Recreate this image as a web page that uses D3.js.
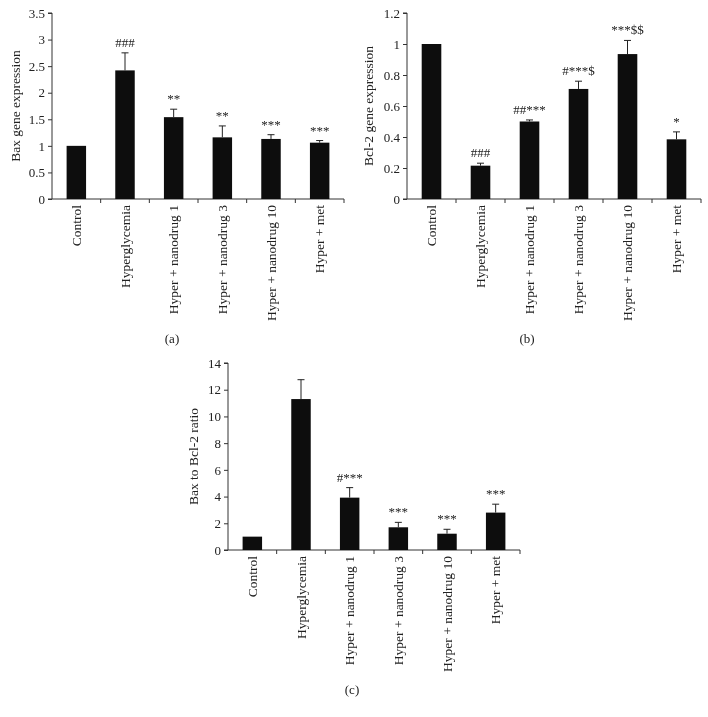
<!DOCTYPE html>
<html>
<head>
<meta charset="utf-8">
<script src="https://cdn.jsdelivr.net/npm/d3@7"></script>
<style>
  html, body { margin: 0; padding: 0; background: #fff; }
  svg { display: block; will-change: transform; }
  text { font-family: "Liberation Serif", "Times New Roman", serif; fill: #222; }
</style>
</head>
<body>
<script>
// ---- Data ----
const categories = ["Control", "Hyperglycemia", "Hyper + nanodrug 1", "Hyper + nanodrug 3", "Hyper + nanodrug 10", "Hyper + met"];

const baxValues = [1.0, 2.42, 1.54, 1.16, 1.13, 1.06];
const baxErrors = [0, 0.33, 0.15, 0.215, 0.08, 0.04];
const baxMarks  = ["", "###", "**", "**", "***", "***"];
const baxTicks  = [0, 0.5, 1, 1.5, 2, 2.5, 3, 3.5];

const bcl2Values = [1.0, 0.215, 0.50, 0.71, 0.935, 0.385];
const bcl2Errors = [0, 0.016, 0.01, 0.05, 0.088, 0.048];
const bcl2Marks  = ["", "###", "##***", "#***$", "***$$", "*"];
const bcl2Ticks  = [0, 0.2, 0.4, 0.6, 0.8, 1, 1.2];

const ratioValues = [1.0, 11.3, 3.92, 1.70, 1.22, 2.80];
const ratioErrors = [0, 1.45, 0.75, 0.37, 0.33, 0.63];
const ratioMarks  = ["", "", "#***", "***", "***", "***"];
const ratioTicks  = [0, 2, 4, 6, 8, 10, 12, 14];

const W = 708, H = 717;
const svg = d3.select("body").append("svg").attr("width", W).attr("height", H);

function panel(cfg) {
  const g = svg.append("g");
  const x = d3.scaleBand().domain(categories).range([cfg.x0, cfg.x1]).paddingInner(0.6).paddingOuter(0.3);
  const y = d3.scaleLinear().domain([0, cfg.max]).range([cfg.yb, cfg.yt]);

  // Y axis
  const ya = g.append("g").attr("transform", `translate(${cfg.x0},0)`)
    .call(d3.axisLeft(y).tickValues(cfg.ticks).tickSize(4).tickPadding(3).tickFormat(d => String(d)));
  ya.select(".domain").attr("stroke", "#333").attr("d", `M-4,${cfg.yt}H0V${cfg.yb}H-4`);
  ya.selectAll(".tick line").attr("stroke", "#333");
  ya.selectAll(".tick text").style("font-family", '"Liberation Serif", serif').style("font-size", "13px").attr("fill", "#222");

  // X axis (ticks at band boundaries)
  const xa = g.append("g").attr("transform", `translate(0,${cfg.yb})`);
  xa.append("line").attr("x1", cfg.x0).attr("x2", cfg.x1).attr("stroke", "#333");
  const bounds = d3.range(1, categories.length + 1).map(i => cfg.x0 + i * (cfg.x1 - cfg.x0) / categories.length);
  xa.selectAll("line.bt").data(bounds).join("line").attr("class", "bt")
    .attr("x1", d => d).attr("x2", d => d).attr("y1", 0).attr("y2", 4).attr("stroke", "#333");
  xa.selectAll("text.xl").data(categories).join("text").attr("class", "xl")
    .attr("transform", d => `translate(${x(d) + x.bandwidth() / 2},6) rotate(-90)`)
    .attr("text-anchor", "end").attr("dy", "0.35em")
    .style("font-size", "13.5px").text(d => d);

  // Bars
  g.selectAll("rect.bar").data(categories).join("rect").attr("class", "bar")
    .attr("x", d => x(d)).attr("width", x.bandwidth())
    .attr("y", (d, i) => y(cfg.values[i])).attr("height", (d, i) => y(0) - y(cfg.values[i]))
    .attr("fill", "#0d0d0d");

  // Error bars (upper only)
  categories.forEach((c, i) => {
    if (!cfg.errors[i]) return;
    const cx = x(c) + x.bandwidth() / 2;
    const top = y(cfg.values[i] + cfg.errors[i]);
    g.append("line").attr("x1", cx).attr("x2", cx).attr("y1", y(cfg.values[i])).attr("y2", top).attr("stroke", "#222");
    g.append("line").attr("x1", cx - 3.5).attr("x2", cx + 3.5).attr("y1", top).attr("y2", top).attr("stroke", "#222");
  });

  // Significance marks
  g.selectAll("text.mk").data(categories).join("text").attr("class", "mk")
    .attr("x", d => x(d) + x.bandwidth() / 2)
    .attr("y", (d, i) => y(cfg.values[i] + cfg.errors[i]) - 6)
    .attr("text-anchor", "middle").style("font-size", "13px").attr("fill", "#444")
    .text((d, i) => cfg.marks[i]);

  // Y title
  g.append("text")
    .attr("transform", `translate(${cfg.titleX},${(cfg.yt + cfg.yb) / 2}) rotate(-90)`)
    .attr("text-anchor", "middle").attr("dy", "0.35em").style("font-size", "13.5px")
    .text(cfg.title);

  // Panel label
  g.append("text").attr("x", cfg.labelX).attr("y", cfg.labelY).attr("text-anchor", "middle")
    .style("font-size", "13px").text(cfg.label);
}

panel({ x0: 52, x1: 344, yt: 13, yb: 199, max: 3.5, ticks: baxTicks, values: baxValues, errors: baxErrors, marks: baxMarks,
        title: "Bax gene expression", titleX: 15, label: "(a)", labelX: 172, labelY: 343 });
panel({ x0: 407, x1: 701, yt: 13, yb: 199, max: 1.2, ticks: bcl2Ticks, values: bcl2Values, errors: bcl2Errors, marks: bcl2Marks,
        title: "Bcl-2 gene expression", titleX: 368, label: "(b)", labelX: 527, labelY: 343 });
panel({ x0: 228, x1: 520, yt: 363, yb: 550, max: 14, ticks: ratioTicks, values: ratioValues, errors: ratioErrors, marks: ratioMarks,
        title: "Bax to Bcl-2 ratio", titleX: 193, label: "(c)", labelX: 352, labelY: 694 });
</script>
</body>
</html>
